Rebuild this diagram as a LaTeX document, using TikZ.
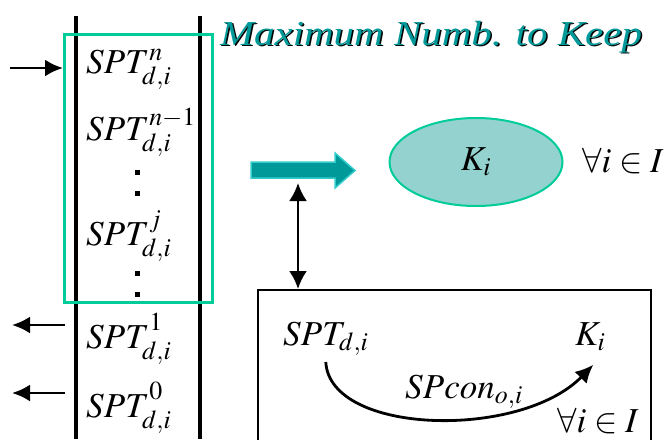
\documentclass[tikz,border=0pt]{standalone}
\usepackage{mathptmx}
\usepackage{fontspec}
\setmainfont{Liberation Serif}
\usetikzlibrary{shapes.geometric, arrows.meta, positioning}
\definecolor{kpTeal}{HTML}{009999}
\definecolor{kpGreen}{HTML}{00CC99}
\definecolor{kpCyan}{HTML}{33CCCC}
\definecolor{kpFill}{HTML}{94D2CF}

\begin{document}
\begin{tikzpicture}[x=1pt, y=-1pt, font=\fontsize{35}{40}\selectfont,
        lbl/.style={anchor=base west, inner sep=0pt},
        colline/.style={line width=3.2pt},
        keepbox/.style={draw=kpGreen, line width=2.5pt, anchor=north west, minimum width=148pt, minimum height=268pt, inner sep=0pt},
        ttl/.style={anchor=base, inner sep=0pt, font=\fontsize{35}{40}\selectfont\itshape},
        fatarr/.style={draw=kpCyan, fill=kpTeal, line width=1.5pt, line join=miter},
        kell/.style={ellipse, draw=kpGreen, fill=kpFill, line width=2pt, minimum width=173pt, minimum height=88pt, inner sep=0pt},
        frame/.style={draw, line width=2pt, anchor=north west, minimum width=393pt, minimum height=170pt, inner sep=0pt},
        arr/.style={-{Latex[length=18pt, width=17pt]}, line width=2.8pt},
        dblarr/.style={{Latex[length=18pt, width=18pt]}-{Latex[length=18pt, width=18pt]}, line width=2.6pt}]
        \clip (0,0) rectangle (668,439);
        % stack of SPT values
        \draw[colline] (76,16) -- (76,439);
        \draw[colline] (200,16) -- (200,439);
        \node[keepbox] (keep) at (63,33) {};
        \node[lbl] (sn) at (86,73) {$SPT^{n}_{d,i}$};
        \node[lbl] (snm) at (86,140) {$SPT^{n-1}_{d,i}$};
        \node[lbl] (sj) at (86,245) {$SPT^{j}_{d,i}$};
        \node[lbl] (sone) at (86,348) {$SPT^{1\vphantom{j}}_{d,i}$};
        \node[lbl] (szero) at (86,417) {$SPT^{0\vphantom{j}}_{d,i}$};
        \foreach \y in {170,191,271,292}
          \fill (134.5,\y) rectangle (139.5,\y+5);
        \coordinate (inS) at (10,68);
        \coordinate (outAs) at (65,325);
        \coordinate (outAe) at (12,325);
        \coordinate (outBs) at (65,393);
        \coordinate (outBe) at (12,393);
        \draw[arr] (inS) -- (inS -| keep.west);
        \draw[arr] (outAs) -- (outAe);
        \draw[arr] (outBs) -- (outBe);
        % title with shadow
        \node[ttl, text=black] (ttlsh) at (432.5,46.5) {\scalebox{1.17}[1]{Maximum Numb. to Keep}};
        \node[ttl, text=kpTeal] (title) at (431,45) {\scalebox{1.17}[1]{Maximum Numb. to Keep}};
        % K_i
        \draw[fatarr] (251,162) -- (335,162) -- (335,153) -- (355,170.5) -- (335,188) -- (335,178) -- (251,178) -- cycle;
        \node[kell] (kell) at (476,162) {$K_i$};
        \node[lbl] (allA) at (582,172) {$\forall i\in I$};
        \node[frame] (box) at (257,289) {};
        \coordinate (dtop) at (298,183);
        \draw[dblarr] (dtop) -- (dtop |- box.north);
        \node[lbl] (spt) at (283,345) {$SPT_{d,i}$};
        \node[lbl] (kk) at (575,345) {$K_i$};
        \node[lbl] (spc) at (405,398) {$SPcon_{o,i}$};
        \node[lbl] (allB) at (557,432) {$\forall i\in I$};
        \draw[arr] ([yshift=-6pt]spt.south) .. controls +(4,73) and +(-73,75) .. ([xshift=3pt, yshift=-14pt]kk.south);
      \end{tikzpicture}
\end{document}
